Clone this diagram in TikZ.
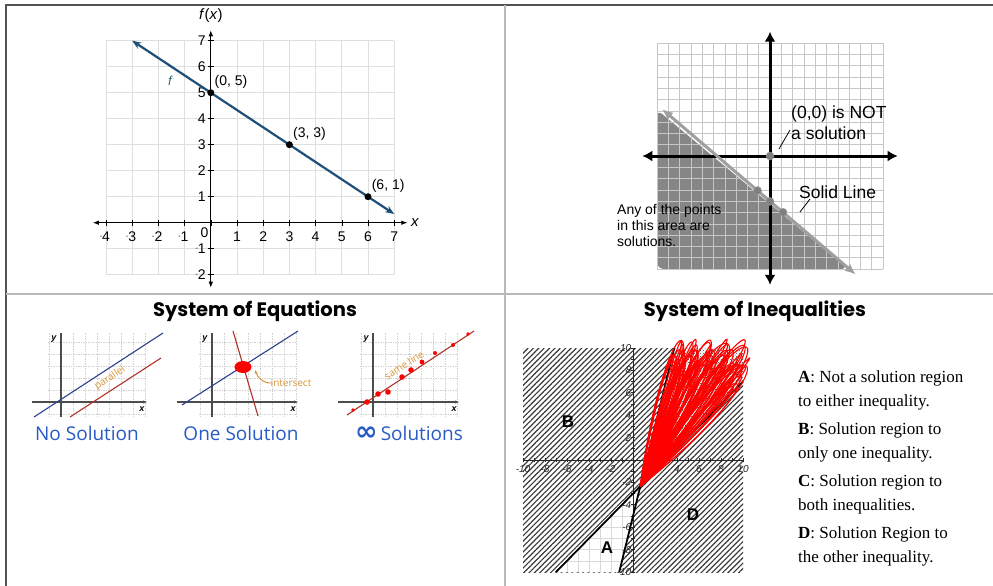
\documentclass[tikz,border=0pt]{standalone}
\usepackage{fontspec}
\setmainfont{Liberation Serif}
\setsansfont{Liberation Sans}
\newfontfamily\titlefont{Poppins}
\newfontfamily\handfont{Open Sans}
\newfontfamily\symbfont{DejaVu Sans}
\usepackage{tikz}
\usetikzlibrary{calc,patterns,patterns.meta,arrows.meta,shapes.geometric,positioning}
\definecolor{fblue}{RGB}{31,78,121}
\definecolor{fteal}{RGB}{40,110,120}
\definecolor{navyblue}{RGB}{45,65,140}
\definecolor{brickred}{RGB}{175,50,40}
\definecolor{notecolor}{RGB}{215,150,60}
\definecolor{labelblue}{RGB}{40,90,200}
\def\mn{\raisebox{.45ex}{\scriptsize -}}

\begin{document}
\begin{tikzpicture}[x=1pt,y=-1pt]
    \tikzstyle{frame}=[draw=gray!65!black, line width=1.5pt]
    \tikzstyle{divider}=[draw=gray!55, line width=1.5pt]
    \tikzstyle{fgrid}=[draw=gray!25, line width=0.8pt]
    \tikzstyle{faxis}=[draw=black, line width=0.8pt, arrows={Latex[length=6pt,width=4.5pt]-Latex[length=6pt,width=4.5pt]}]
    \tikzstyle{ftick}=[draw=black, line width=0.6pt]
    \tikzstyle{ticklabel}=[font=\sffamily\fontsize{14}{16}\selectfont, inner sep=1pt]
    \tikzstyle{axlabel}=[font=\sffamily\fontsize{15}{17}\selectfont, inner sep=1pt]
    \tikzstyle{fline}=[draw=fblue, line width=2.2pt, arrows={Stealth[length=9pt,width=7pt]-Stealth[length=9pt,width=7pt]}]
    \tikzstyle{fdot}=[circle, fill=black, minimum size=7pt, inner sep=0pt]
    \tikzstyle{ptlabel}=[font=\sffamily\fontsize{14}{16}\selectfont, inner sep=1pt]
    \tikzstyle{flabel}=[font=\sffamily\itshape\fontsize{13}{15}\selectfont, text=fteal]
    \tikzstyle{solnshade}=[fill=gray!95]
    \tikzstyle{igrid}=[draw=gray!45, line width=0.6pt]
    \tikzstyle{iaxis}=[draw=black, line width=3pt, arrows={Latex[length=10pt,width=11pt]-Latex[length=10pt,width=11pt]}]
    \tikzstyle{bline}=[draw=gray!75, line width=3pt, arrows={Latex[length=11pt,width=9pt]-Latex[length=11pt,width=9pt]}]
    \tikzstyle{gdot}=[circle, fill=gray, draw=gray!80, minimum size=8pt, inner sep=0pt]
    \tikzstyle{notetext}=[font=\sffamily\fontsize{17.5}{21}\selectfont, align=left, inner sep=0pt]
    \tikzstyle{pointer}=[draw=black, line width=0.8pt]
    \tikzstyle{smalltext}=[font=\sffamily\fontsize{14}{16}\selectfont, align=left, inner sep=0pt]
    \tikzstyle{titletext}=[font=\titlefont\bfseries\fontsize{19.5}{22}\selectfont]
    \tikzstyle{sgrid}=[draw=gray!35, dash pattern=on 1.5pt off 1pt, line width=0.5pt]
    \tikzstyle{saxis}=[draw=gray!60!black, line width=1.3pt]
    \tikzstyle{slabel}=[font=\sffamily\bfseries\itshape\fontsize{9}{10}\selectfont, inner sep=0pt]
    \tikzstyle{navyline}=[draw=navyblue, line width=1.1pt]
    \tikzstyle{brickline}=[draw=brickred, line width=1.1pt]
    \tikzstyle{handnote}=[font=\handfont\fontsize{10}{12}\selectfont, text=notecolor, inner sep=0pt]
    \tikzstyle{notearrow}=[draw=notecolor, line width=1pt, -{Stealth[length=4pt]}]
    \tikzstyle{blob}=[ellipse, fill=red, minimum width=17pt, minimum height=12pt, inner sep=0pt]
    \tikzstyle{solnlabel}=[font=\handfont\fontsize{19}{22}\selectfont, text=labelblue]
    \tikzstyle{hatch}=[pattern={Lines[angle=45,distance=3.8pt,line width=1.15pt]}, pattern color=gray!45!black]
    \tikzstyle{agrid}=[draw=gray!30, line width=0.6pt]
    \tikzstyle{dotfill}=[pattern=crosshatch dots, pattern color=gray!50!black]
    \tikzstyle{thinaxis}=[draw=gray!30!black, line width=0.8pt]
    \tikzstyle{itick}=[font=\sffamily\itshape\fontsize{10}{11}\selectfont, text=gray!30!black, inner sep=0.5pt]
    \tikzstyle{bound}=[draw=black, line width=1.8pt]
    \tikzstyle{scribble}=[draw=red, line width=1.1pt]
    \tikzstyle{region}=[font=\sffamily\bfseries\fontsize{17}{19}\selectfont, inner sep=1pt]
    \tikzstyle{desc}=[font=\fontsize{17}{24}\selectfont, align=left, anchor=west, inner sep=0pt]

    \fill[white] (0,0) rectangle (993,586);
    \useasboundingbox (0,0) rectangle (993,586);

    % Draw the table lines
    \draw[frame] (6,586) -- (6,5) -- (993,5);
    \draw[divider] (6,294) -- (993,294);
    \draw[divider] (505,5) -- (505,586);

    % Draw the function graph
    \begin{scope}[shift={(210.8,222.7)}, x=26.2pt, y=26pt]
        \draw[fgrid] (-4,-2) grid[step=1] (7,7);
        \draw[faxis] (-4.5,0) -- (7.5,0);
        \draw[faxis] (0,-2.5) -- (0,7.4);
        \foreach \x in {-4,...,7}
            \draw[ftick] (\x,-0.12) -- (\x,0.12);
        \foreach \y in {-2,...,7}
            \draw[ftick] (-0.12,\y) -- (0.12,\y);
        \foreach \x in {1,...,7}
            \node[ticklabel] at (\x,-0.55) {\x};
        \foreach \x / \n in {-4/4,-3/3,-2/2,-1/1}
            \node[ticklabel] at (\x,-0.55) {\llap{\mn}\n};
        \foreach \y in {1,...,7}
            \node[ticklabel, anchor=east] at (-0.15,\y) {\y};
        \foreach \y / \n in {-1/1,-2/2}
            \node[ticklabel, anchor=east] at (-0.15,\y) {\mn\n};
        \node[ticklabel, anchor=east] at (-0.05,-0.38) {0};
        \node[axlabel] (fx) at (0,7.95) {\textit{f}(\textit{x})};
        \node[axlabel] (xl) at (7.8,0) {\textit{x}};
        \coordinate (fstart) at (-3,7);
        \coordinate (fend) at (7,0.333);
        \draw[fline] (fstart) -- (fend);
        \node[fdot] (P-1) at (0,5) {};
        \node[fdot] (P-2) at (3,3) {};
        \node[fdot] (P-3) at (6,1) {};
        \node[ptlabel, above right=0pt and 0pt of P-1] {(0, 5)};
        \node[ptlabel, above right=0pt and 0pt of P-2] {(3, 3)};
        \node[ptlabel, above right=0pt and 0pt of P-3] {(6, 1)};
        \node[flabel] (fname) at (-1.56,5.45) {f};
    \end{scope}

    % Draw the inequality graph
    \begin{scope}[shift={(770,156)}, x=11.3pt, y=11.3pt]
        \fill[solnshade, rounded corners=7pt] (-10,4.1) -- (-10,-10) -- (6.9,-10) -- cycle;
        \draw[igrid] (-10,-10) grid[step=1] (10,10);
        \draw[iaxis] (-11.3,0) -- (11.3,0);
        \draw[iaxis] (0,-11.4) -- (0,11);
        \coordinate (lstart) at (-9.56,4.16);
        \coordinate (lend) at (7.6,-10.5);
        \draw[bline] (lstart) -- (lend);
        \node[gdot] (O) at (0,0) {};
        \node[gdot] (L-1) at (-1.1,-3.06) {};
        \node[gdot] (L-2) at (0,-4.02) {};
        \node[gdot] (L-3) at (1.15,-4.98) {};
    \end{scope}
    \node[notetext, anchor=west] (notenot) at (791,122.5) {(0,0) is NOT\\a solution};
    \coordinate (notetip) at (790,130);
    \coordinate (noteend) at (779,149);
    \draw[pointer] (notetip) -- (noteend);
    \node[notetext, anchor=west] (solid) at (799,192) {Solid Line};
    \coordinate (solidtip) at (810,199);
    \coordinate (solidend) at (800,212);
    \draw[pointer] (solidtip) -- (solidend);
    \node[smalltext, anchor=west] (anypts) at (617,225) {Any of the points\\in this area are\\solutions.};

    % Titles
    \node[titletext] (eqtitle) at (255,311) {System of Equations};
    \node[titletext] (ineqtitle) at (755,311) {System of Inequalities};

    % Draw the three small graphs
    \foreach \name / \ox / \xs in {nosol/61/-29, onesol/212/-35, infsol/373/-35} {
        \begin{scope}[shift={(\ox,402)}]
            \draw[sgrid] (-13,-69) grid[step=12pt] (84,15);
            \draw[saxis] (0,15) -- (0,-69);
            \draw[saxis, -{Stealth[length=4pt,width=3pt]}] (\xs,0) -- (86,0);
            \node[slabel] (\name-y) at (-7,-63) {y};
            \node[slabel] (\name-x) at (81,7) {x};
        \end{scope}
    }
    \coordinate (a1) at (34,417);
    \coordinate (a2) at (163,333);
    \coordinate (a3) at (70,417);
    \coordinate (a4) at (161,358);
    \draw[navyline] (a1) -- (a2);
    \draw[brickline] (a3) -- (a4);
    \node[handnote, rotate=33] (par) at (110,378) {parallel};

    \coordinate (b1) at (182,405);
    \coordinate (b2) at (298,331);
    \coordinate (b3) at (233,331);
    \coordinate (b4) at (258,416);
    \draw[navyline] (b1) -- (b2);
    \draw[brickline] (b3) -- (b4);
    \node[blob] (hit) at (243,367) {};
    \node[handnote] (isect) at (291,383) {intersect};
    \coordinate (hitmark) at (255,370);
    \draw[notearrow] (isect.west) to[out=180, in=-70] (hitmark);

    \coordinate (c1) at (347,415);
    \coordinate (c2) at (474,331);
    \draw[brickline] (c1) -- (c2);
    \foreach \px / \py / \r in {353/410/1.8, 367/402/2.8, 378/394/2.8, 388/392/2.8, 402/377/2.8, 411/370/2.8, 422/362/2.4, 435/353/2, 453/345/2, 468/334/1.8}
        \fill[red] (\px,\py) circle (\r pt);
    \node[handnote, rotate=33] (same) at (404,365) {same line};

    \node[solnlabel] (nosol) at (87,433) {No Solution};
    \node[solnlabel] (onesol) at (241,433) {One Solution};
    \node[solnlabel] (infsol) at (409,433) {{\symbfont\bfseries\fontsize{27}{22}\selectfont ∞}\,Solutions};

    % Draw the system of inequalities graph
    \begin{scope}[shift={(633,460)}, x=11pt, y=11.2pt]
        \fill[hatch] (-10,-10) rectangle (10,10);
        \coordinate (P) at (0.667,-2.333);
        \fill[white] (-7,-10) -- (P) -- (-1.25,-10) -- cycle;
        \begin{scope}
            \clip (-7,-10) -- (P) -- (-1.25,-10) -- cycle;
            \draw[agrid] (-10,-10) grid[step=1] (10,10);
        \end{scope}
        \fill[white] (P) -- (3.75,10) -- (10,10) -- (10,7) -- cycle;
        \fill[dotfill] (P) -- (3.75,10) -- (10,10) -- (10,7) -- cycle;
        \draw[thinaxis] (-10,0) -- (10,0);
        \draw[thinaxis] (0,-10) -- (0,10);
        \foreach \t in {-10,...,10} {
            \draw[thinaxis] (\t,-0.2) -- (\t,0.2);
            \draw[thinaxis] (-0.2,\t) -- (0.2,\t);
        }
        \foreach \t in {-10,-8,-6,-4,-2,4,6,8,10}
            \node[itick] at (\t,-0.8) {\t};
        \foreach \t in {-10,-8,-6,-4,-2,2,4,6,8,10}
            \node[itick, anchor=east] at (-0.1,\t) {\t};
        \coordinate (k1) at (-7,-10);
        \coordinate (k2) at (10,7);
        \coordinate (k3) at (-1.25,-10);
        \coordinate (k4) at (3.75,10);
        \draw[bound] (k1) -- (k2);
        \draw[bound] (k3) -- (k4);
        % red scribble over region C
        \foreach \t in {46,47,...,76} {
            \pgfmathsetmacro\w{2+mod(\t*5,7)}
            \pgfmathsetmacro\R{(1.22+0.05*mod(\t,5))*min(12.33/sin(\t),9.33/cos(\t))}
            \draw[scribble] (P) .. controls +(\t-\w:\R) and +(\t+\w:\R) .. (P);
        }
        \foreach \t in {46.5,48,...,75} {
            \pgfmathsetmacro\w{4+mod(\t*3,6)}
            \pgfmathsetmacro\R{(1.15+0.06*mod(\t*2,4))*min(12.33/sin(\t),9.33/cos(\t))}
            \draw[scribble] (P) .. controls +(\t-\w:\R) and +(\t+\w:\R) .. (P);
        }
        \foreach \t / \w in {48/10,52/9,58/11,64/8,70/6,74/3} {
            \pgfmathsetmacro\R{1.4*min(12.33/sin(\t),9.33/cos(\t))}
            \draw[scribble] (P) .. controls +(\t-\w:\R) and +(\t+\w:\R) .. (P);
        }
        \node[region] (reg-A) at (-2.36,-7.86) {A};
        \node[region] (reg-B) at (-5.9,3.4) {B};
        \node[region] (reg-D) at (5.45,-4.9) {D};
    \end{scope}

    % Region descriptions
    \foreach \name / \y / \txt in {A/390/{Not a solution region\\to either inequality.},B/442/{Solution region to\\only one inequality.},C/494/{Solution region to\\both inequalities.},D/546/{Solution Region to\\the other inequality.}}
        \node[desc] (desc-\name) at (798,\y) {\textbf{\name}: \txt};
\end{tikzpicture}
\end{document}
